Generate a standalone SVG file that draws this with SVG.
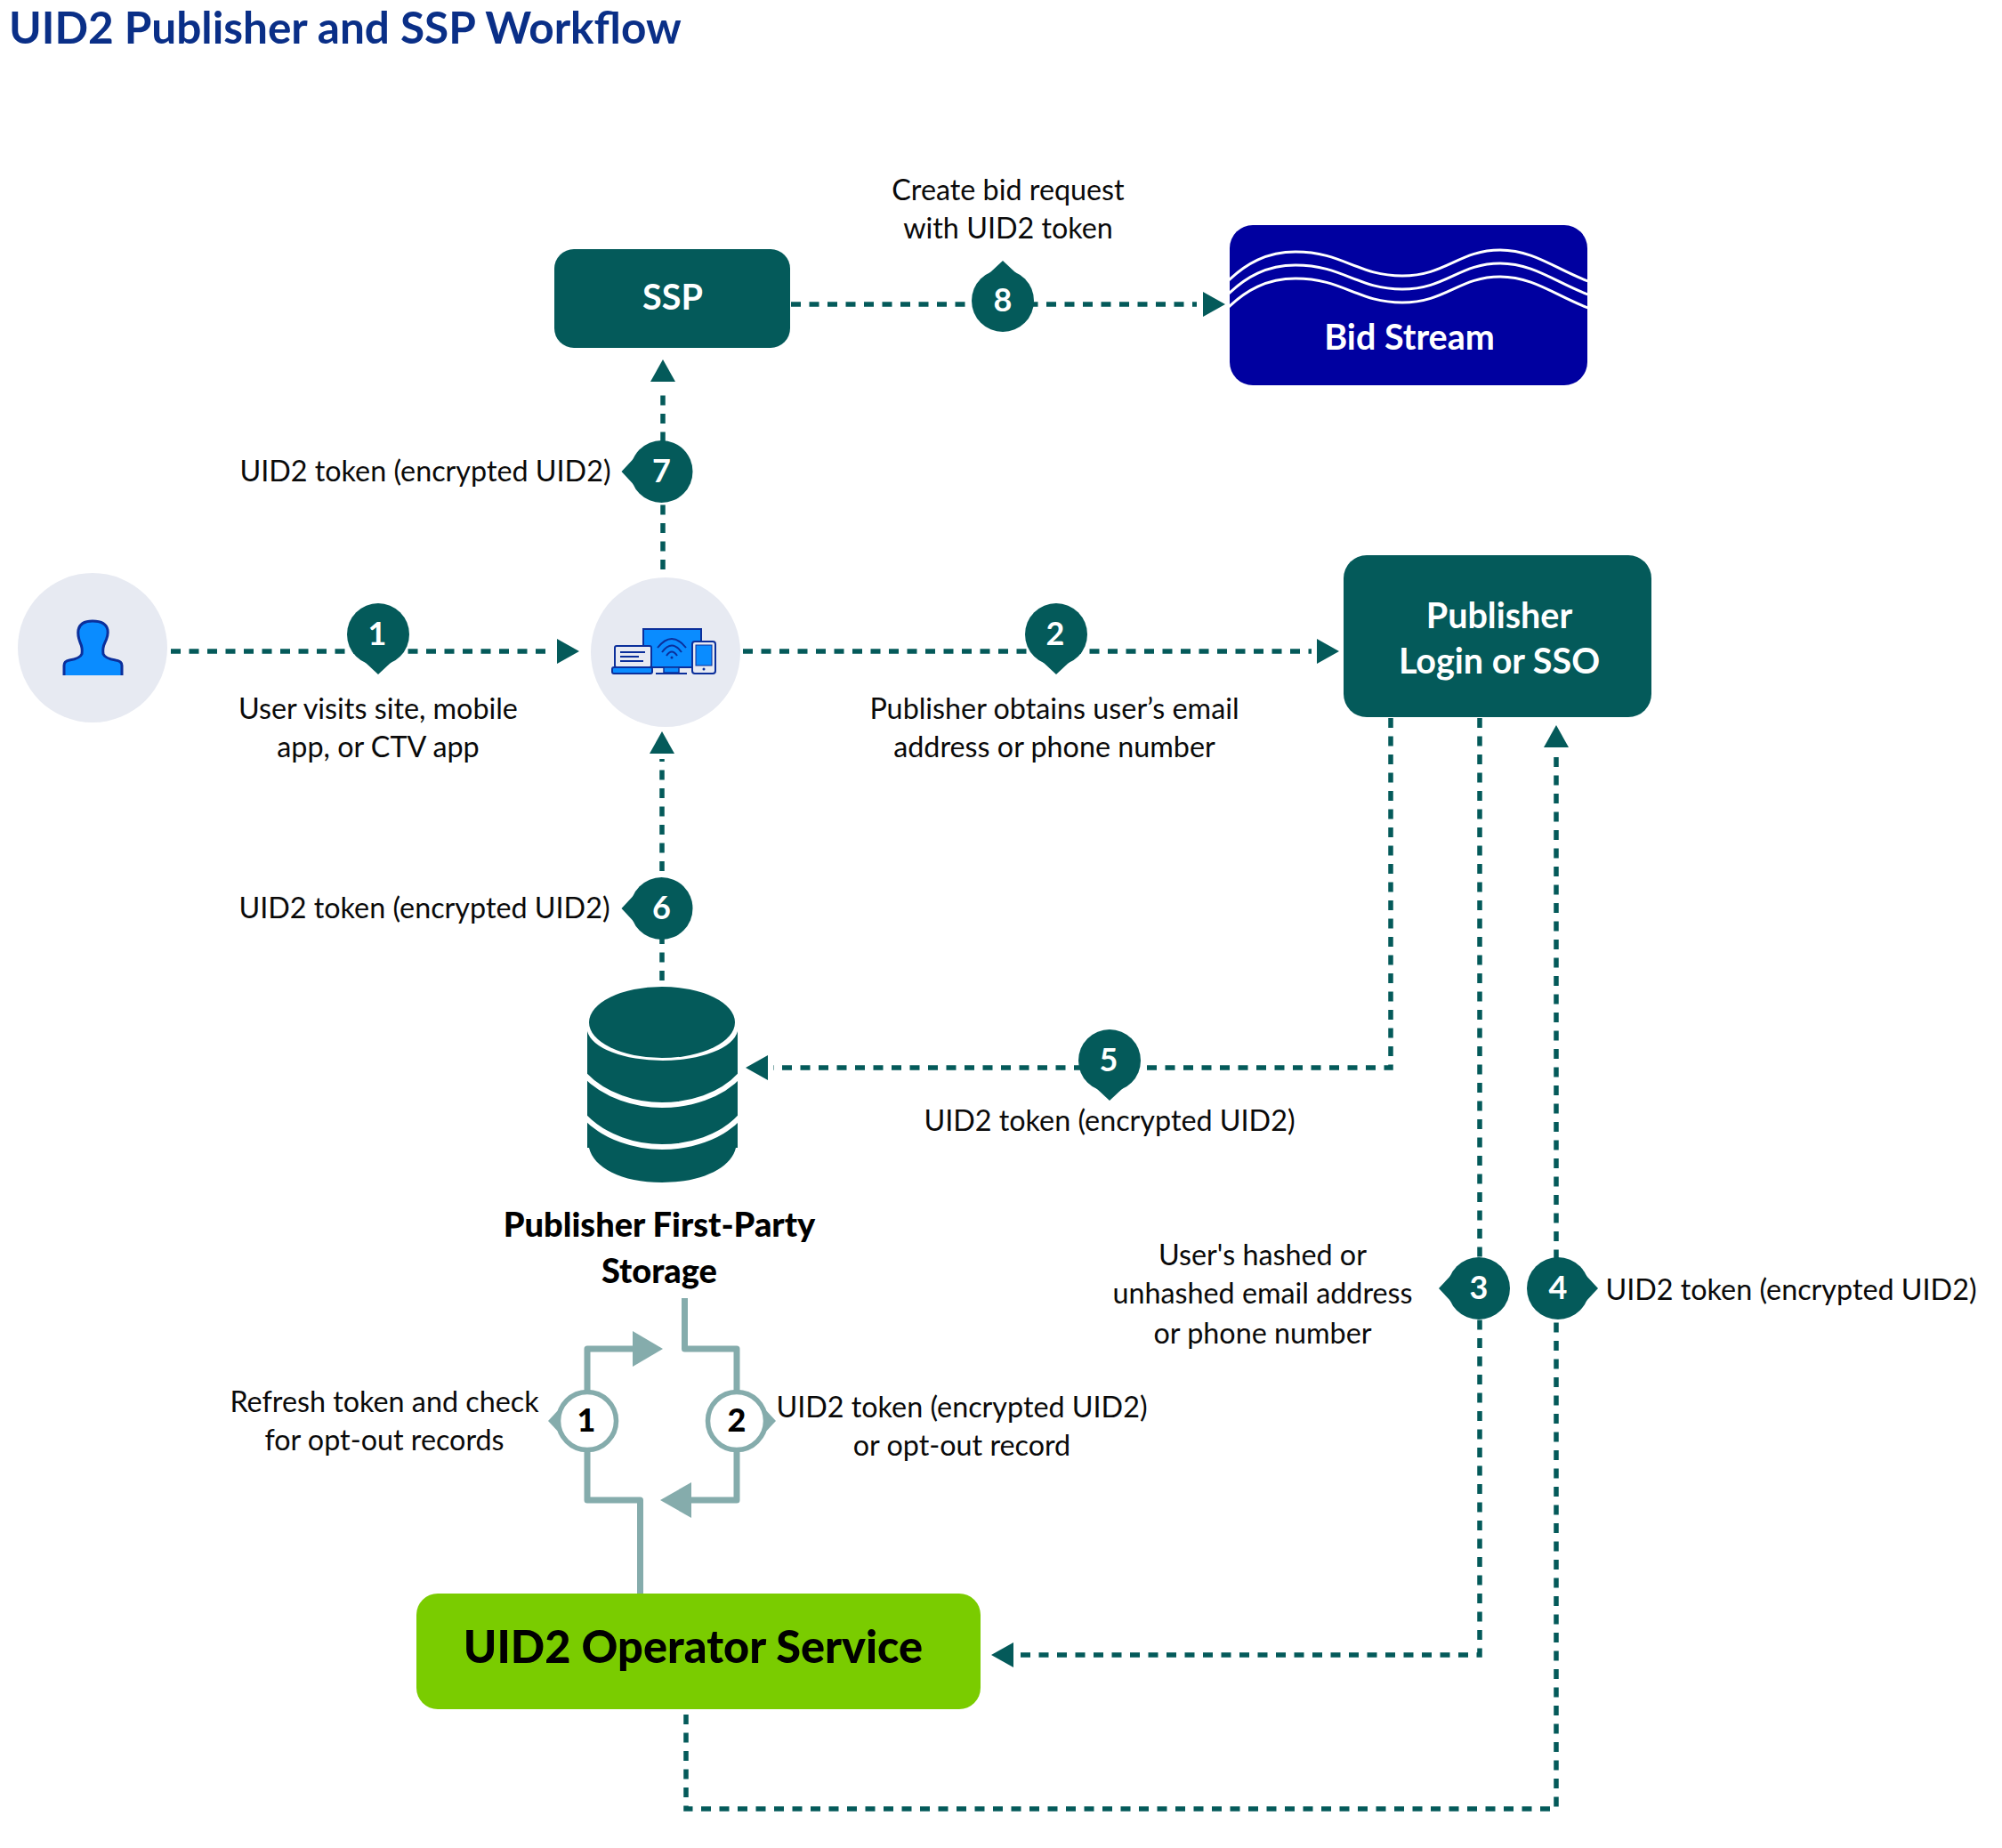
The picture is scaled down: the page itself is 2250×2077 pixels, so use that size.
<svg xmlns="http://www.w3.org/2000/svg" width="2250" height="2077" viewBox="0 0 2250 2077">
<style>
text{font-family:"Lato","Noto Sans",sans-serif}
.lbl{font-size:32.300px;fill:#0a0a0a;text-anchor:middle}
.nb{font-size:36px;font-weight:700;fill:#fff;text-anchor:middle}
.nk{font-size:36px;font-weight:900;fill:#000;text-anchor:middle}
.hw{font-weight:700;fill:#fff;text-anchor:middle;font-size:39.500px}
.hk{font-weight:900;fill:#000;text-anchor:middle;font-size:38px}
.dash{fill:none;stroke:#045a5a;stroke-width:5.500;stroke-dasharray:11 9.500}
.solid{fill:none;stroke:#85acac;stroke-width:7;stroke-linejoin:round}
.ah{fill:#045a5a}
.ahl{fill:#85acac}
.dk{fill:#045a5a}
.ico{fill:none;stroke:#0b2f9b;stroke-width:2}
.blue{fill:#0a8cff;stroke:#0b2f9b}
.pale{fill:#e7eaf2;stroke:#0b2f9b;stroke-width:2}
</style>
<defs>
<g id="badge" class="dk"><circle r="35"/><path d="M-15 31L0 45L15 31Z"/></g>
<g id="lbadge"><path d="M30 -15L44 0L30 15Z" fill="#85acac"/><circle r="32.500" fill="#fff" stroke="#85acac" stroke-width="5.500"/></g>
<clipPath id="bidclip"><rect x="1382" y="253" width="402" height="180" rx="26"/></clipPath>
<path id="wave" d="M1376 320C1400 295 1425 283 1456 283C1510 283 1525 310 1576 310C1625 310 1640 281 1686 281C1725 281 1750 304 1790 318"/>
</defs>
<rect width="2250" height="2077" fill="#fff"/>
<text id="title" x="10" y="49" font-size="49.500" font-weight="700" fill="#0a2f87">UID2 Publisher and SSP Workflow</text>

<g id="connectors">
<path class="dash" d="M192 732H620"/><path class="ah" d="M626 718L651 732L626 746Z"/>
<path class="dash" d="M835 732H1474"/><path class="ah" d="M1480 718L1505 732L1480 746Z"/>
<path class="dash" d="M889 342H1345"/><path class="ah" d="M1352 328L1377 342L1352 356Z"/>
<path class="dash" d="M745 640V436"/><path class="ah" d="M731 429L745 404L759 429Z"/>
<path class="dash" d="M744 1102V853"/><path class="ah" d="M730 847L744 822L758 847Z"/>
<path class="dash" d="M1563 807V1200H869"/><path class="ah" d="M863 1186L838 1200L863 1214Z"/>
<path class="dash" d="M1663 807V1860H1145"/><path class="ah" d="M1139 1846L1114 1860L1139 1874Z"/>
<path class="dash" d="M771 1927V2033H1749V846"/><path class="ah" d="M1735 840L1749 815L1763 840Z"/>
<path class="solid" d="M769.500 1459V1516H828V1686H777"/><path class="ahl" d="M777 1666L742 1686L777 1706Z"/>
<path class="solid" d="M719.500 1793V1686H660V1516H711"/><path class="ahl" d="M711 1496L745 1516L711 1536Z"/>
</g>

<g id="node-user"><circle cx="104" cy="728" r="84" fill="#e7eaf2"/>
<path d="M72 759V748Q72 743 78 742Q90 740 92 735Q93 728 90 722Q87 714 88 708Q90 698 104 698Q119 698 121 708Q122 714 118 722Q115 728 116 735Q118 740 130 742Q137 743 137 748V759" fill="#0a8cff" stroke="#0b2f9b" stroke-width="3"/></g>

<g id="node-devices"><circle cx="748" cy="733" r="84" fill="#e7eaf2"/>
<rect x="723" y="707" width="65" height="43" class="blue" stroke-width="2"/>
<path class="ico" d="M739 728Q755 708 771 728M744 733Q755 718 766 733"/>
<path class="ico" d="M749 737Q755 728 761 737"/><circle cx="755" cy="739" r="1.500" fill="#0b2f9b"/>
<rect x="746" y="750" width="17" height="6" class="blue" stroke-width="1.500"/><path class="ico" d="M737 757H772"/>
<rect x="691" y="726" width="41" height="24" rx="2" class="pale"/>
<path class="ico" d="M697 733H725M697 738H718M697 743H723"/>
<rect x="688" y="750" width="45" height="7" rx="2" class="blue" stroke-width="2"/>
<rect x="778" y="721" width="26" height="36" rx="3" class="pale"/>
<rect x="782" y="725" width="18" height="23" class="blue" stroke-width="1"/><circle cx="791" cy="752" r="1.500" fill="#0b2f9b"/></g>

<g id="node-ssp"><rect x="623" y="280" width="265" height="111" rx="22" class="dk"/><text class="hw" x="756" y="348">SSP</text></g>

<g id="node-bidstream"><rect x="1382" y="253" width="402" height="180" rx="26" fill="#0000a0"/>
<g clip-path="url(#bidclip)" fill="none" stroke="#fff" stroke-width="3"><use href="#wave"/><use href="#wave" y="15"/><use href="#wave" y="30"/></g>
<text class="hw" x="1584" y="393">Bid Stream</text></g>

<g id="node-publisher"><rect x="1510" y="624" width="346" height="182" rx="26" class="dk"/><text class="hw" x="1685" y="706">Publisher</text><text class="hw" x="1685" y="757">Login or SSO</text></g>

<g id="node-storage"><path class="dk" d="M660 1159A85 37 0 0 0 829 1159V1290H827C822 1312 790 1329 744 1329C698 1329 667 1312 662 1290H660Z"/><ellipse cx="744" cy="1149" rx="82" ry="40" class="dk"/>
<g fill="none" stroke="#fff" stroke-width="6"><path d="M657 1208C680 1232 715 1242 744 1242C775 1242 810 1232 832 1208"/><path d="M657 1255C680 1279 715 1289 744 1289C775 1289 810 1279 832 1255"/></g>
<text class="hk" x="741" y="1390">Publisher First-Party</text><text class="hk" x="741" y="1442">Storage</text></g>

<g id="node-operator"><rect x="468" y="1791" width="634" height="130" rx="24" fill="#7acc00"/><text x="779" y="1869" font-size="50.500" font-weight="900" fill="#000" text-anchor="middle">UID2 Operator Service</text></g>

<g id="badge-1"><use href="#badge" transform="translate(425 713)"/><text class="nb" x="424" y="725">1</text></g>
<g id="badge-2"><use href="#badge" transform="translate(1187 713)"/><text class="nb" x="1186" y="725">2</text></g>
<g id="badge-3"><use href="#badge" transform="translate(1662 1448) rotate(90)"/><text class="nb" x="1662" y="1460">3</text></g>
<g id="badge-4"><use href="#badge" transform="translate(1751 1448) rotate(-90)"/><text class="nb" x="1751" y="1460">4</text></g>
<g id="badge-5"><use href="#badge" transform="translate(1247 1192)"/><text class="nb" x="1246" y="1204">5</text></g>
<g id="badge-6"><use href="#badge" transform="translate(743.500 1021) rotate(90)"/><text class="nb" x="743.500" y="1033">6</text></g>
<g id="badge-7"><use href="#badge" transform="translate(743.500 530) rotate(90)"/><text class="nb" x="743.500" y="542">7</text></g>
<g id="badge-8"><use href="#badge" transform="translate(1127 338) rotate(180)"/><text class="nb" x="1127" y="350">8</text></g>
<g id="badge-r1"><use href="#lbadge" transform="translate(660 1597) rotate(180)"/><text class="nk" x="659" y="1609">1</text></g>
<g id="badge-r2"><use href="#lbadge" transform="translate(828 1597)"/><text class="nk" x="828" y="1609">2</text></g>

<g id="labels">
<text class="lbl" x="1133" y="225">Create bid request</text><text class="lbl" x="1133" y="268">with UID2 token</text>
<text class="lbl" x="478" y="541">UID2 token (encrypted UID2)</text>
<text class="lbl" x="477" y="1032">UID2 token (encrypted UID2)</text>
<text class="lbl" x="425" y="808">User visits site, mobile</text><text class="lbl" x="425" y="851">app, or CTV app</text>
<text class="lbl" x="1185" y="808">Publisher obtains user’s email</text><text class="lbl" x="1185" y="851">address or phone number</text>
<text class="lbl" x="1247" y="1271">UID2 token (encrypted UID2)</text>
<text class="lbl" x="1419" y="1422">User's hashed or</text><text class="lbl" x="1419" y="1465">unhashed email address</text><text class="lbl" x="1419" y="1510">or phone number</text>
<text class="lbl" x="2013" y="1461">UID2 token (encrypted UID2)</text>
<text class="lbl" x="432" y="1587">Refresh token and check</text><text class="lbl" x="432" y="1630">for opt-out records</text>
<text class="lbl" x="1081" y="1593">UID2 token (encrypted UID2)</text><text class="lbl" x="1081" y="1636">or opt-out record</text>
</g>
</svg>
